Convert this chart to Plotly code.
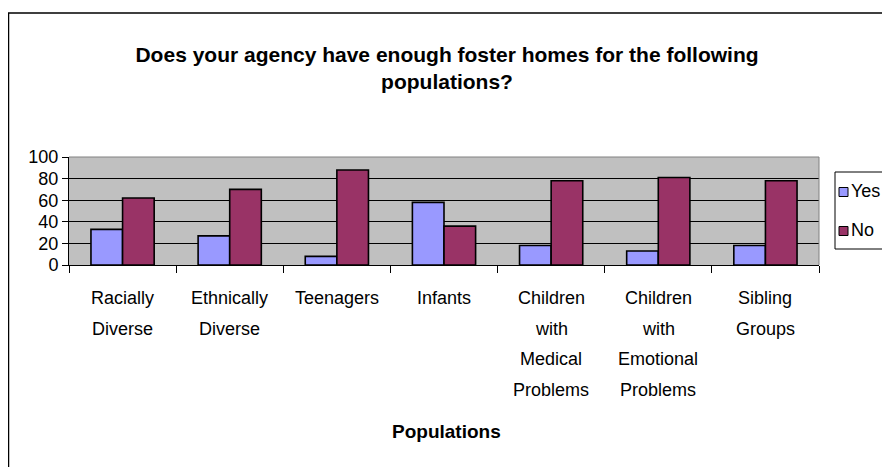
import plotly.graph_objects as go

categories = ["Racially Diverse", "Ethnically Diverse", "Teenagers", "Infants",
              "Children with Medical Problems", "Children with Emotional Problems",
              "Sibling Groups"]
tick_lines = [["Racially", "Diverse"], ["Ethnically", "Diverse"], ["Teenagers"], ["Infants"],
              ["Children", "with", "Medical", "Problems"],
              ["Children", "with", "Emotional", "Problems"],
              ["Sibling", "Groups"]]
series_names = ["Yes", "No"]
yes_values = [33, 27, 8, 58, 18, 13, 18]
no_values = [62, 70, 88, 36, 78, 81, 78]
y_ticks = [0, 20, 40, 60, 80, 100]

FONT = "Liberation Sans, Arial, sans-serif"
COLORS = ["#9999FF", "#993366"]

# figure is placed by the page at (8, 8): layout below is in figure pixels
W, H = 882, 459
PL, PR, PT, PB = 61, 811, 149, 257   # plot area edges
PW, PH = PR - PL, PB - PT


def px(fx):
    return (fx - PL) / PW


def py(fy):
    return (PB - fy) / PH


fig = go.Figure()
for name, vals, col in zip(series_names, [yes_values, no_values], COLORS):
    fig.add_bar(x=categories, y=vals, name=name, showlegend=False,
                marker=dict(color=col, line=dict(color="black", width=1.6)))

fig.update_layout(
    width=W, height=H,
    margin=dict(l=PL, r=W - PR, t=PT, b=H - PB, autoexpand=False),
    paper_bgcolor="white", plot_bgcolor="#C0C0C0",
    font=dict(family=FONT, size=18, color="black"),
    barmode="group", bargap=0.41, bargroupgap=0,
    title=dict(text="<b>Does your agency have enough foster homes for the following<br>populations?</b>",
               x=439 / W, xref="container", xanchor="center",
               y=1 - 54 / H, yref="container", yanchor="middle",
               font=dict(size=21, family=FONT)),
)

fig.update_xaxes(tickson="boundaries", ticks="outside", ticklen=7, tickcolor="black",
                 showline=True, linecolor="black", linewidth=1,
                 showticklabels=False, automargin=False)
fig.update_yaxes(range=[0, 100], tickvals=y_ticks, ticks="outside", ticklen=6,
                 tickcolor="black", showgrid=True, gridcolor="black", gridwidth=1,
                 showline=True, linecolor="black", linewidth=1, zeroline=False,
                 tickfont=dict(size=18), automargin=False)

# category labels, one line each so the line spacing follows the reference
for cat, lines in zip(categories, tick_lines):
    for i, line in enumerate(lines):
        fig.add_annotation(text=line, xref="x", yref="paper", x=cat, y=0,
                           yshift=-(33 + i * 30.7), showarrow=False,
                           xanchor="center", yanchor="middle",
                           font=dict(size=18, family=FONT))

fig.add_annotation(text="<b>Populations</b>", xref="paper", yref="paper",
                   x=px(438), y=py(423), showarrow=False,
                   font=dict(size=19, family=FONT), xanchor="center", yanchor="middle")

# top and right frame of plot area in gray
fig.add_shape(type="line", xref="paper", yref="paper", x0=0, x1=1, y0=1, y1=1,
              line=dict(color="#808080", width=1))
fig.add_shape(type="line", xref="paper", yref="paper", x0=1, x1=1, y0=0, y1=1,
              line=dict(color="#808080", width=1))

# legend box (Excel style, runs off the right edge like the reference)
fig.add_shape(type="rect", xref="paper", yref="paper",
              x0=px(827), x1=px(895), y0=py(241), y1=py(164),
              line=dict(color="black", width=1), fillcolor="white", layer="above")
for i, (name, col) in enumerate(zip(series_names, COLORS)):
    cy = 184 + i * 39
    fig.add_shape(type="rect", xref="paper", yref="paper",
                  x0=px(831), x1=px(840), y0=py(cy + 4.5), y1=py(cy - 4.5),
                  line=dict(color="black", width=1), fillcolor=col, layer="above")
    fig.add_annotation(text=name, xref="paper", yref="paper",
                       x=px(841), y=py(cy - 1), showarrow=False,
                       xanchor="left", yanchor="middle",
                       font=dict(size=18, family=FONT))

# outer chart border
fig.add_shape(type="rect", xref="paper", yref="paper",
              x0=px(0.5), x1=px(881), y0=py(480), y1=py(5),
              line=dict(color="black", width=1.5))

fig.write_html("out.html")
